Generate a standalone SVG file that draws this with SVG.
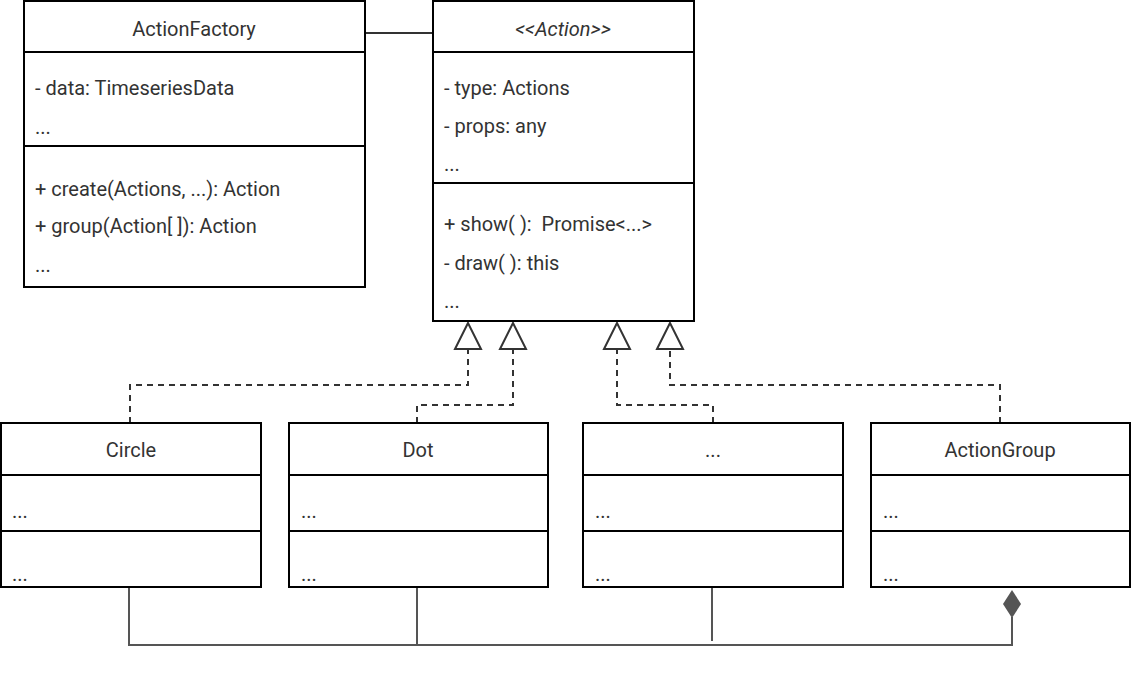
<svg xmlns="http://www.w3.org/2000/svg" width="1132" height="674" viewBox="0 0 1132 674">
  <style>
    .box { fill: #ffffff; stroke: #000000; stroke-width: 2; }
    .div { stroke: #000000; stroke-width: 2; }
    text { font-family: Roboto, "Liberation Sans", sans-serif; font-size: 20px; fill: #333333; }
    .title { text-anchor: middle; }
    .italic { font-style: italic; }
    .dash { fill: none; stroke: #333333; stroke-width: 2; stroke-dasharray: 6 5; }
    .solid { fill: none; stroke: #555555; stroke-width: 2; }
    .tri { fill: #ffffff; stroke: #333333; stroke-width: 2; stroke-linejoin: miter; }
  </style>
  <rect width="1132" height="674" fill="#ffffff"/>

  <!-- connectors -->
  <g id="connectors">
    <line x1="366" y1="33" x2="432" y2="33" stroke="#333333" stroke-width="2"/>
    <!-- realization arrows -->
    <path class="dash" d="M130 423 V385 H468 V350"/>
    <path class="dash" d="M417 423 V405 H513 V350"/>
    <path class="dash" d="M713 423 V405 H617 V350"/>
    <path class="dash" d="M1000 423 V385 H670 V350"/>
    <polygon class="tri" points="468,323 455,349 481,349"/>
    <polygon class="tri" points="513,323 500,349 526,349"/>
    <polygon class="tri" points="617,323 604,349 630,349"/>
    <polygon class="tri" points="670,323 657,349 683,349"/>
    <!-- composition -->
    <path class="solid" d="M129 587 V645 H1012 V617"/>
    <line class="solid" x1="417" y1="587" x2="417" y2="645"/>
    <line class="solid" x1="712" y1="587" x2="712" y2="641"/>
    <polygon points="1012,590 1021,604 1012,618 1003,604" fill="#555555"/>
  </g>

  <g id="ActionFactory">
    <rect class="box" x="24" y="1" width="341" height="286"/>
    <line class="div" x1="24" y1="52" x2="365" y2="52"/>
    <line class="div" x1="24" y1="146" x2="365" y2="146"/>
    <text class="title" x="194" y="36">ActionFactory</text>
    <text x="35" y="95">- data: TimeseriesData</text>
    <text x="35" y="134">...</text>
    <text x="35" y="196">+ create(Actions, ...): Action</text>
    <text x="35" y="233">+ group(Action[ ]): Action</text>
    <text x="35" y="272">...</text>
  </g>

  <g id="Action">
    <rect class="box" x="433" y="1" width="261" height="320"/>
    <line class="div" x1="433" y1="52" x2="694" y2="52"/>
    <line class="div" x1="433" y1="183" x2="694" y2="183"/>
    <text class="title italic" x="563" y="36">&lt;&lt;Action&gt;&gt;</text>
    <text x="444" y="95">- type: Actions</text>
    <text x="444" y="133">- props: any</text>
    <text x="444" y="171">...</text>
    <text x="444" y="231">+ show( ): &#160;Promise&lt;...&gt;</text>
    <text x="444" y="270">- draw( ): this</text>
    <text x="444" y="308">...</text>
  </g>

  <g id="Circle">
    <rect class="box" x="1" y="423" width="260" height="164"/>
    <line class="div" x1="1" y1="475" x2="261" y2="475"/>
    <line class="div" x1="1" y1="531" x2="261" y2="531"/>
    <text class="title" x="131" y="457">Circle</text>
    <text x="12" y="518">...</text>
    <text x="12" y="581">...</text>
  </g>

  <g id="Dot">
    <rect class="box" x="289" y="423" width="259" height="164"/>
    <line class="div" x1="289" y1="475" x2="548" y2="475"/>
    <line class="div" x1="289" y1="531" x2="548" y2="531"/>
    <text class="title" x="418" y="457">Dot</text>
    <text x="301" y="518">...</text>
    <text x="301" y="581">...</text>
  </g>

  <g id="Other">
    <rect class="box" x="583" y="423" width="260" height="164"/>
    <line class="div" x1="583" y1="475" x2="843" y2="475"/>
    <line class="div" x1="583" y1="531" x2="843" y2="531"/>
    <text class="title" x="713" y="457">...</text>
    <text x="595" y="518">...</text>
    <text x="595" y="581">...</text>
  </g>

  <g id="ActionGroup">
    <rect class="box" x="871" y="423" width="259" height="164"/>
    <line class="div" x1="871" y1="475" x2="1130" y2="475"/>
    <line class="div" x1="871" y1="531" x2="1130" y2="531"/>
    <text class="title" x="1000" y="457">ActionGroup</text>
    <text x="883" y="518">...</text>
    <text x="883" y="581">...</text>
  </g>
</svg>
